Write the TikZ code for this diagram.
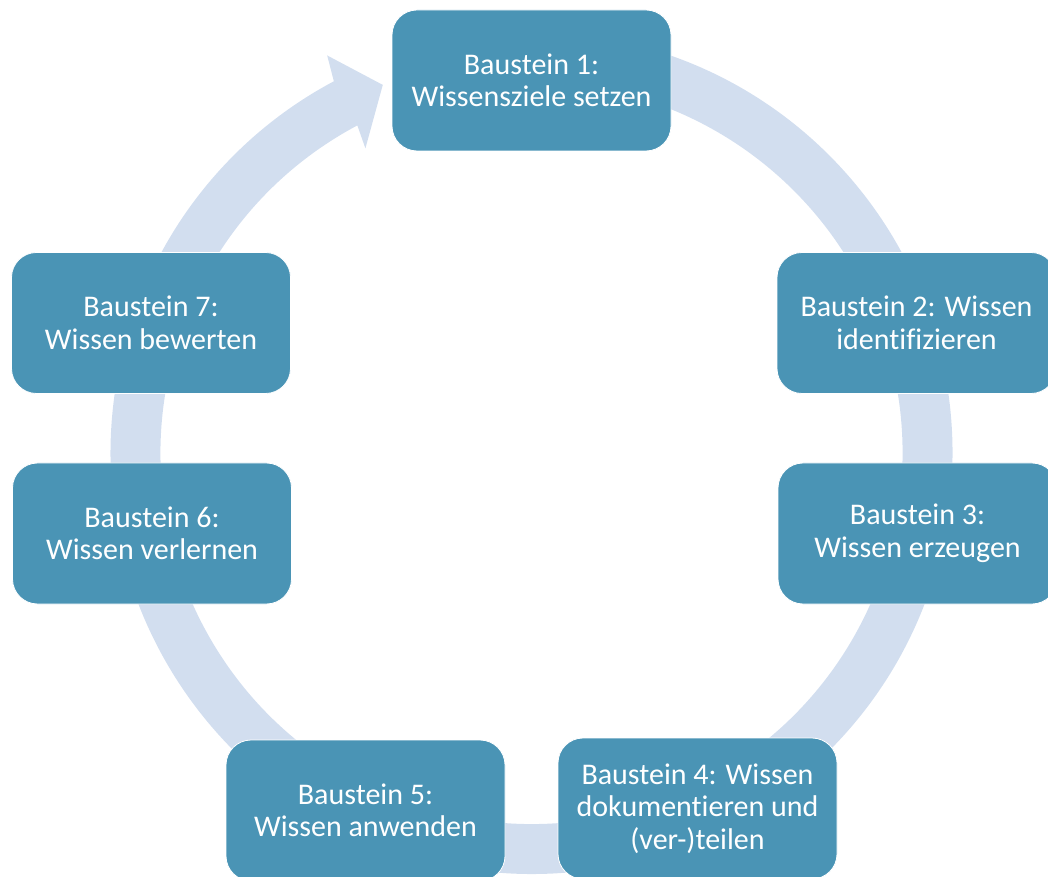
\documentclass[tikz,border=0pt]{standalone}
\usepackage{fontspec}
\setmainfont{Carlito}[Ligatures=NoCommon]
\definecolor{boxblue}{HTML}{4A94B5}
\definecolor{ringblue}{HTML}{D2DEEF}
\begin{document}
\begin{tikzpicture}[x=1pt,y=1pt,
  stepbox/.style={draw=white, line width=0.8pt, fill=boxblue,
    rounded corners=25pt, minimum width=279pt, minimum height=141pt,
    inner sep=0pt, text=white, align=center,
    font=\fontsize{30}{32.5}\selectfont}]
\useasboundingbox (0,0) rectangle (1048,876);
\clip (0,0) rectangle (1048,876);

% circular arrow running clockwise round the cycle
\begin{scope}[shift={(531.5,423)}]
  \fill[ringblue]
    (85:421pt) arc[start angle=85, end angle=-242, radius=421pt]
    -- (117.2:447pt) -- (112:397pt) -- (118.6:347pt)
    -- (118:371pt) arc[start angle=118, end angle=445, radius=371pt]
    -- cycle;
\end{scope}

% the seven building blocks
\node[stepbox] (b1) at (531.5,795.5) {Baustein 1:\\Wissensziele setzen};
\node[stepbox] (b2) at (916.5,553)   {Baustein 2: Wissen\\identifizieren};
\node[stepbox] (b3) at (917.5,342.5) {Baustein 3:\\Wissen erzeugen};
\node[stepbox] (b4) at (697.5,67.5)  {Baustein 4: Wissen\\dokumentieren und\\(ver-)teilen};
\node[stepbox] (b5) at (365.5,65.5)  {Baustein 5:\\Wissen anwenden};
\node[stepbox] (b6) at (152,342.5)   {Baustein 6:\\Wissen verlernen};
\node[stepbox] (b7) at (151,553)     {Baustein 7:\\Wissen bewerten};
\end{tikzpicture}
\end{document}
